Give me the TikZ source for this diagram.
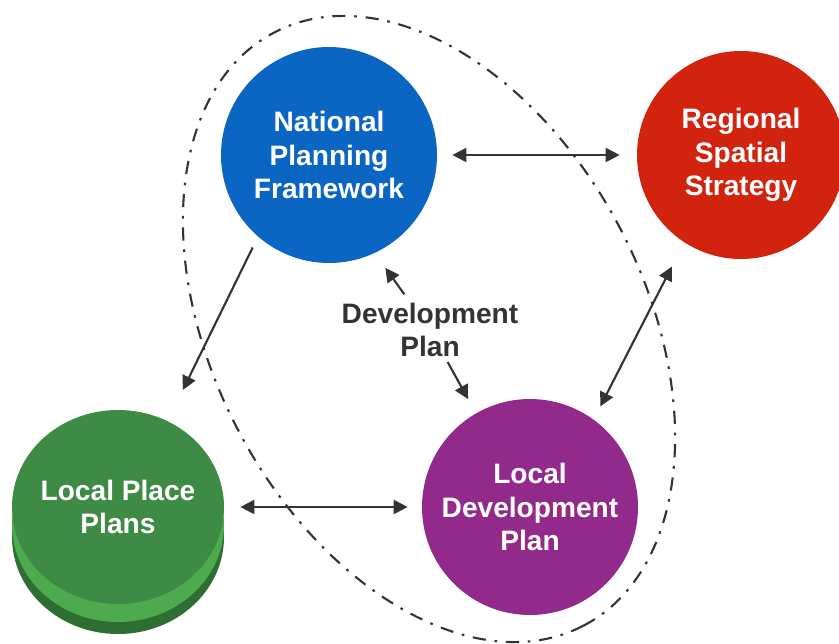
\documentclass[tikz,border=0pt]{standalone}
\usepackage{fontspec}
\setmainfont{Liberation Sans}
\usepackage{tikz}
\usetikzlibrary{arrows.meta,shapes.geometric}

\definecolor{npfblue}{HTML}{0B65C2}
\definecolor{rssred}{HTML}{D2230F}
\definecolor{ldppurple}{HTML}{922A8C}
\definecolor{lppgreen}{HTML}{3E8B46}
\definecolor{lpplight}{HTML}{4DAA4F}
\definecolor{lppdark}{HTML}{2E6E33}
\definecolor{arrowgray}{HTML}{333333}

\tikzset{
  plan/.style={circle, minimum size=4.32cm, inner sep=0pt, align=center, text=white,
    font=\fontsize{16}{19}\selectfont\bfseries},
  arr/.style={draw=arrowgray, line width=1.2pt, >={Triangle[length=0.28cm,width=0.28cm]}},
}

\begin{document}
\begin{tikzpicture}
        \useasboundingbox (0,0) rectangle (16.78,12.86);
        \draw[arrowgray, line width=1.2pt, dash pattern=on 7.5pt off 5pt on 1.5pt off 5pt]
            (8.58,6.28) ellipse [x radius=6.69, y radius=4.32, rotate=-62.5];
        \node[plan, fill=npfblue] (npf) at (6.58,9.76) {National\\Planning\\Framework};
        \node[plan, fill=rssred, minimum size=4.16cm] (rss) at (14.82,9.76) {Regional\\Spatial\\Strategy};
        \node[plan, fill=ldppurple] (ldp) at (10.6,2.72) {Local\\Development\\Plan};
        \fill[lppdark] (2.36,2.12) ellipse [x radius=2.12, y radius=1.94];
        \fill[lpplight] (2.36,2.36) ellipse [x radius=2.12, y radius=1.94];
        \node[plan, ellipse, fill=lppgreen, minimum width=4.24cm, minimum height=3.88cm, inner xsep=-2mm] (lpp) at (2.36,2.72) {Local Place\\Plans};
        \node[align=center, text=arrowgray, font=\fontsize{16}{19}\selectfont\bfseries] (dev) at (8.6,6.26) {Development\\Plan};
        \draw[arr, <->, shorten <=0.3cm, shorten >=0.34cm] (npf.east) -- (rss.west);
        \draw[arr, <->, shorten <=0.54cm, shorten >=0.29cm] (rss.237) -- (ldp.54);
        \draw[arr, ->, shorten <=0.24cm, shorten >=0.69cm] (npf.229) -- (lpp.60);
        \draw[arr, <->, shorten <=0.32cm, shorten >=0.28cm] (lpp.east) -- (ldp.west);
        \draw[arr, ->, shorten <=0.88cm, shorten >=0.36cm] (dev.center) -- (npf.-65);
        \draw[arr, ->, shorten <=0.73cm, shorten >=0.32cm] (dev.center) -- (ldp.120);
    \end{tikzpicture}
\end{document}
